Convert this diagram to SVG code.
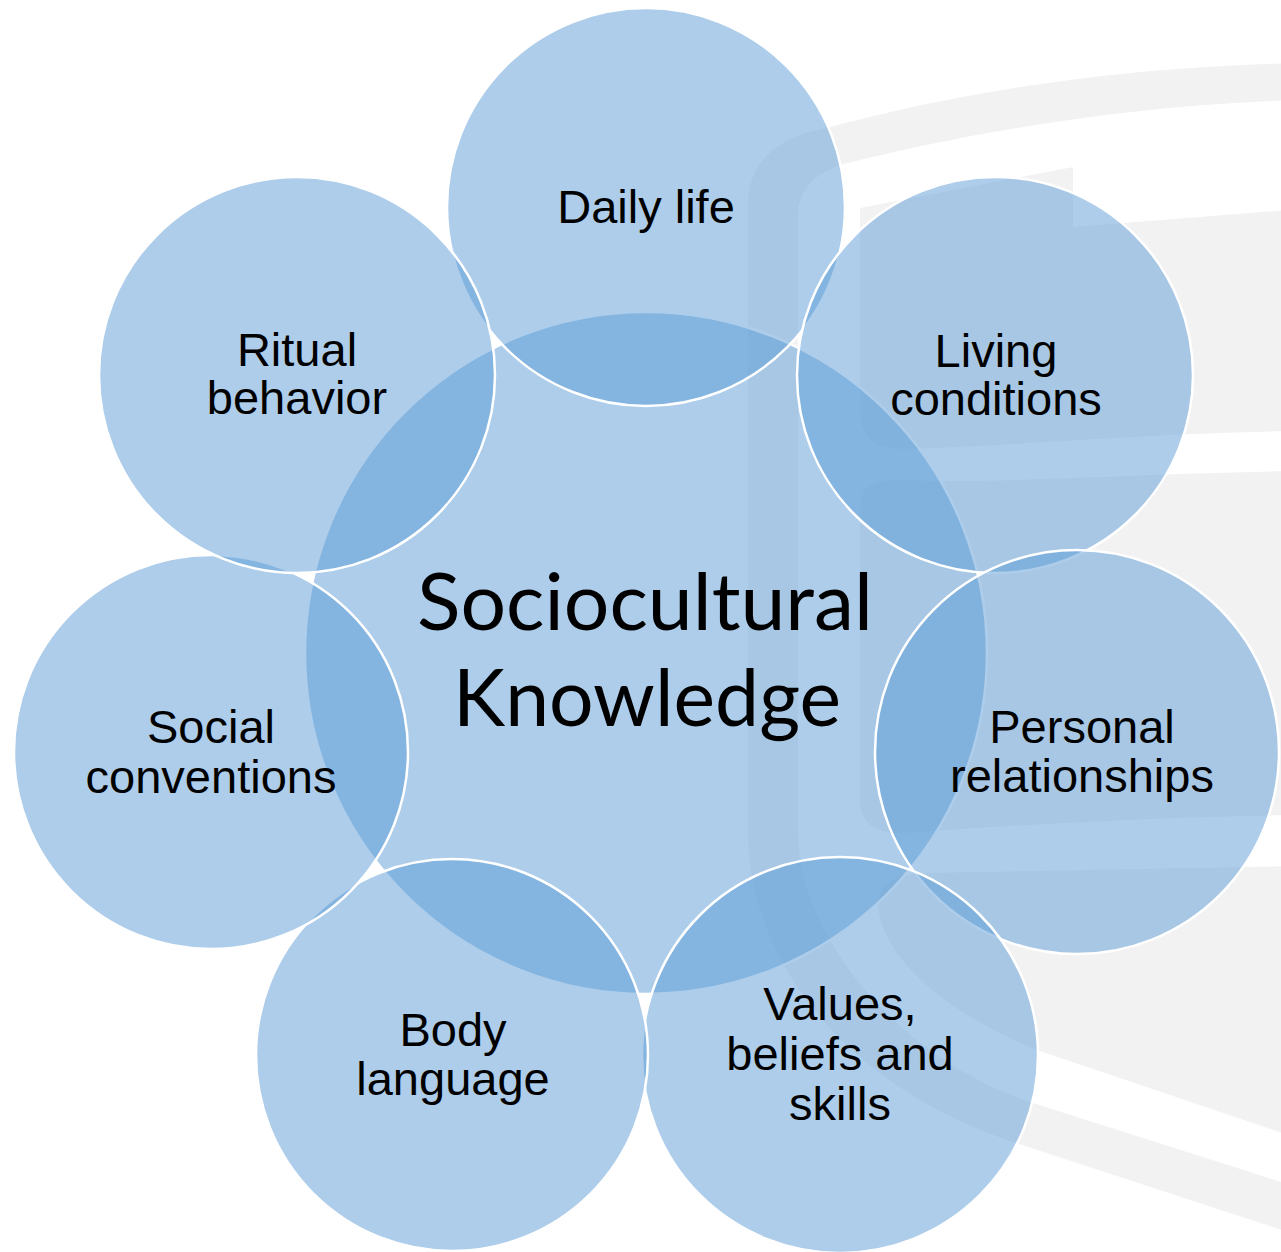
<svg xmlns="http://www.w3.org/2000/svg" width="1281" height="1252" viewBox="0 0 1281 1252">
  <style>
    .bg { fill: #F2F2F2; stroke: none; }
    .node { fill: #5B9BD5; fill-opacity: 0.5; stroke: #FFFFFF; stroke-width: 2.5; }
    .lbl { font-family: "Liberation Sans", Arial, sans-serif; font-size: 47px; fill: #000000; text-anchor: middle; }
    .title { font-family: Lato, "Open Sans", "Liberation Sans", sans-serif; font-size: 80px; fill: #000000; text-anchor: middle; }
  </style>
  <rect x="0" y="0" width="1281" height="1252" fill="#FFFFFF"/>
  <g id="background">
    <path class="bg" d="M 1300,63 C 1100,68 950,95 830,127 Q 748,142 748,205 L 748,830 C 748,980 870,1096 1016,1143 L 1300,1236 L 1300,1188 L 1033,1103 C 903,1061 798,940 798,830 L 798,215 Q 798,180 840,165 C 960,135 1120,105 1300,100 Z"/>
    <path class="bg" d="M 860,208 L 1073,167 L 1073,227 L 1300,209 L 1300,431 C 1150,433 1030,445 905,449 Q 860,450 860,412 Z"/>
    <path class="bg" d="M 860,505 Q 860,478 905,480 C 1000,484 1120,474 1300,471 L 1300,815 C 1150,817 1000,826 905,833 Q 860,835 860,800 Z"/>
    <path class="bg" d="M 878,905 Q 878,873 925,873 L 1300,866 L 1300,1139 L 1037,1050 C 950,1015 882,960 878,905 Z"/>
  </g>
  <g id="connectors"/>
  <g id="node-center">
    <circle class="node" cx="646" cy="653" r="341"/>
    <text class="title" x="645" y="630" textLength="456" lengthAdjust="spacingAndGlyphs">Sociocultural</text>
    <text class="title" x="647" y="726" textLength="388" lengthAdjust="spacingAndGlyphs">Knowledge</text>
  </g>
  <g id="node-daily-life">
    <circle class="node" cx="646" cy="207" r="199"/>
    <text class="lbl" x="646" y="223">Daily life</text>
  </g>
  <g id="node-living-conditions">
    <circle class="node" cx="995" cy="375" r="198"/>
    <text class="lbl" x="996" y="367">Living</text>
    <text class="lbl" x="996" y="415">conditions</text>
  </g>
  <g id="node-personal-relationships">
    <circle class="node" cx="1077" cy="752" r="202"/>
    <text class="lbl" x="1082" y="743">Personal</text>
    <text class="lbl" x="1082" y="792">relationships</text>
  </g>
  <g id="node-values">
    <circle class="node" cx="840" cy="1055" r="198"/>
    <text class="lbl" x="840" y="1020">Values,</text>
    <text class="lbl" x="840" y="1070">beliefs and</text>
    <text class="lbl" x="840" y="1120">skills</text>
  </g>
  <g id="node-body-language">
    <circle class="node" cx="452" cy="1055" r="196"/>
    <text class="lbl" x="453" y="1046">Body</text>
    <text class="lbl" x="453" y="1095">language</text>
  </g>
  <g id="node-social-conventions">
    <circle class="node" cx="211" cy="752" r="197"/>
    <text class="lbl" x="211" y="743">Social</text>
    <text class="lbl" x="211" y="793">conventions</text>
  </g>
  <g id="node-ritual-behavior">
    <circle class="node" cx="297" cy="375" r="198"/>
    <text class="lbl" x="297" y="366">Ritual</text>
    <text class="lbl" x="297" y="414">behavior</text>
  </g>
</svg>
